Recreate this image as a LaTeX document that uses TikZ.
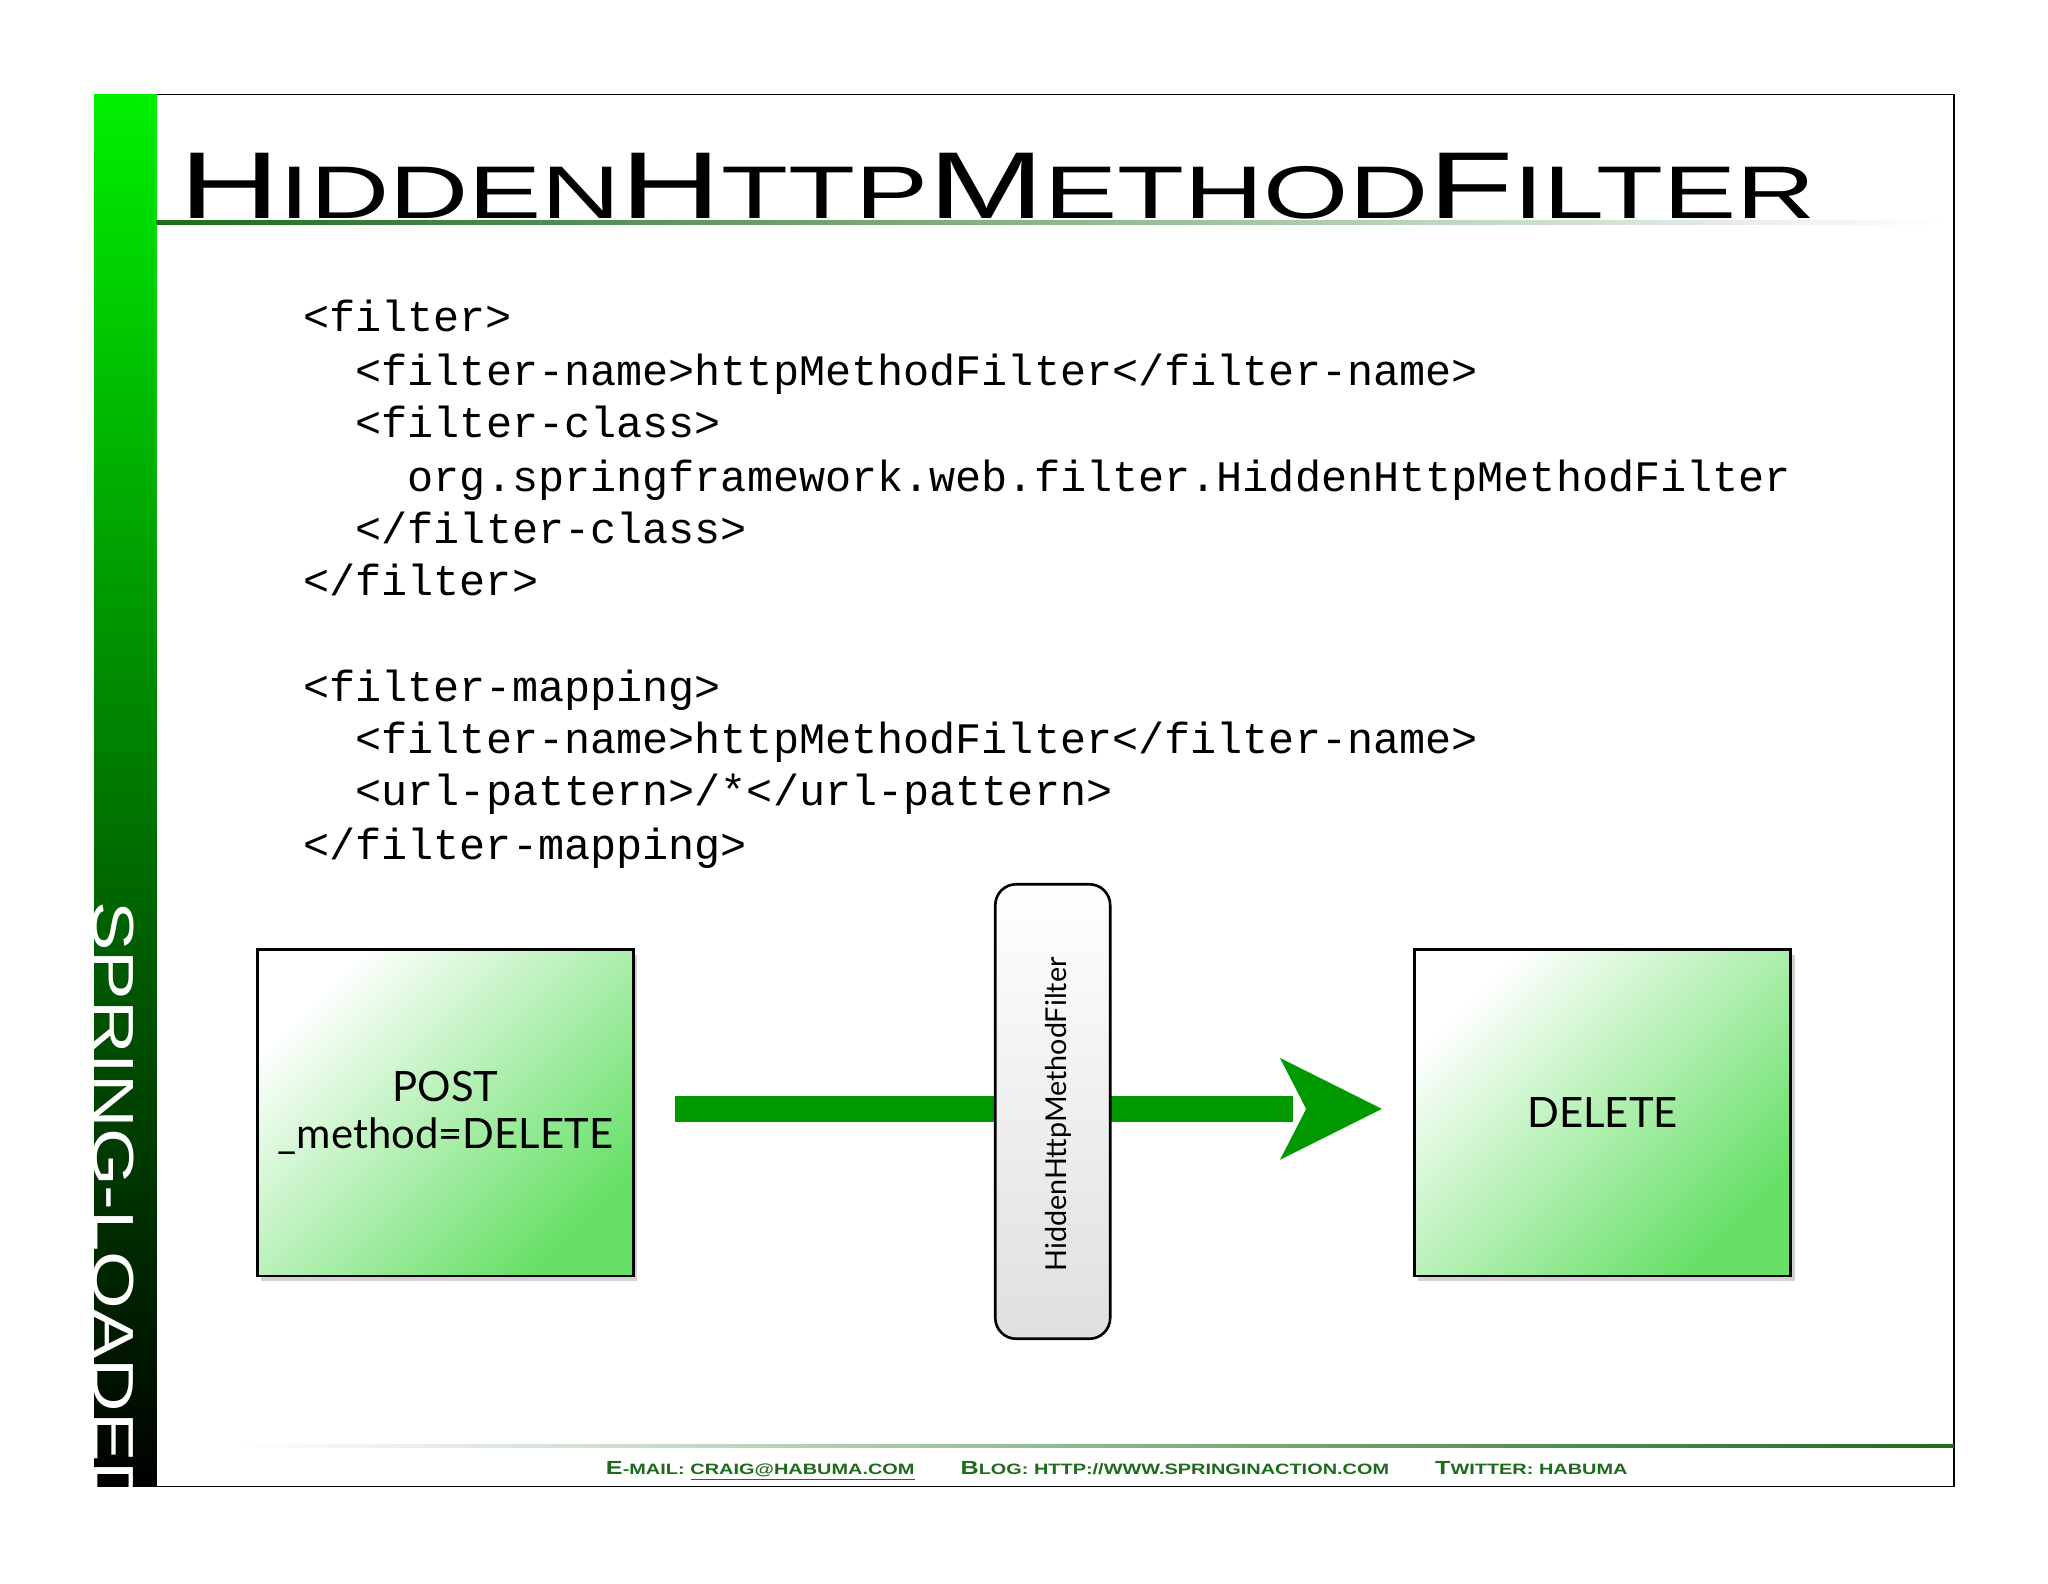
\documentclass[tikz,border=0pt]{standalone}
\usepackage{fontspec}
\setmainfont{Liberation Sans}
\setmonofont{Liberation Mono}
\newfontfamily\gill{Lato}
\usetikzlibrary{shadows,shadings}
\definecolor{dkgreen}{HTML}{009A00}
\definecolor{ftgreen}{HTML}{1E6B1E}
\definecolor{boxgreen}{HTML}{66E066}
\newcommand{\bigc}[1]{{\fontsize{70}{70}\selectfont #1}}
\newcommand{\smc}[1]{{\fontsize{55}{55}\selectfont #1}}
\newcommand{\fb}[1]{{\fontsize{12}{12}\selectfont #1}}
\newcommand{\fs}[1]{{\fontsize{9.5}{9.5}\selectfont #1}}
\begin{document}
\begin{tikzpicture}[x=1pt,y=-1pt,
  code/.style={anchor=base west,font=\fontsize{33.3}{33.3}\selectfont\ttfamily,inner sep=0},
  gbox/.style={draw=black,line width=2pt,minimum width=288pt,minimum height=250pt,
    shading=axis,top color=white,bottom color=boxgreen,shading angle=45,
    drop shadow={shadow xshift=3pt,shadow yshift=-4pt,opacity=0.35},
    font=\gill\fontsize{32}{36}\selectfont,align=center,inner sep=0}]
\useasboundingbox (0,0) rectangle (1568,1212);
\fill[white] (0,0) rectangle (1568,1212);
% frame
\draw[line width=0.8pt] (72,72) rectangle (1496,1138);
% sidebar
\shade[top color={rgb,255:red,0;green,240;blue,0},bottom color=black] (72,72) rectangle (120,1138);
\begin{scope}
\clip (72,72) rectangle (120,1138);
\node[anchor=north west,rotate=-90,inner sep=0,text=white] (side) at (103,690)
  {\resizebox{470pt}{31pt}{\fontsize{40}{40}\selectfont SPRING-LOADED}};
\end{scope}
% title
\node[anchor=base west,inner sep=0] (title) at (137,167)
 {\resizebox{1253pt}{50pt}{\bigc{H}\smc{IDDEN}\bigc{H}\smc{TTP}\bigc{M}\smc{ETHOD}\bigc{F}\smc{ILTER}}};
\shade[left color=ftgreen,right color=white] (120,169) rectangle (1490,172);
% code
\node[code] (c1) at (232,254) {<filter>};
\node[code] (c2) at (272,295) {<filter-name>httpMethodFilter</filter-name>};
\node[code] (c3) at (272,335) {<filter-class>};
\node[code] (c4) at (312,376) {org.springframework.web.filter.HiddenHttpMethodFilter};
\node[code] (c5) at (272,416) {</filter-class>};
\node[code] (c6) at (232,456) {</filter>};
\node[code] (c7) at (232,537) {<filter-mapping>};
\node[code] (c8) at (272,577) {<filter-name>httpMethodFilter</filter-name>};
\node[code] (c9) at (272,617) {<url-pattern>/*</url-pattern>};
\node[code] (c10) at (232,658) {</filter-mapping>};
% boxes
\node[gbox] (post) at (341,852) {POST\\\_method=DELETE};
\node[gbox] (del) at (1227,852) {DELETE};
% arrow
\fill[dkgreen] (517,839) rectangle (990,859);
\fill[dkgreen] (980,810) -- (1058,849) -- (980,888) -- (1000,849) -- cycle;
% filter
\node[draw=black,line width=2pt,rounded corners=16pt,minimum width=88pt,minimum height=348pt,
  top color=white,bottom color=gray!25,inner sep=0] (filt) at (806,851) {};
\node[rotate=90,font=\gill\fontsize{22}{22}\selectfont,anchor=west] (ftxt) at (810,977) {HiddenHttpMethodFilter};
% footer
\shade[left color=white,right color=ftgreen] (180,1106) rectangle (1496,1108.5);
\node[inner sep=0,text=ftgreen,anchor=base] (foot) at (855,1129)
 {\resizebox{782pt}{10pt}{\bfseries\fb{E}\fs{-MAIL:} \underline{\fs{CRAIG@HABUMA.COM}}\hspace{2.2em}\fb{B}\fs{LOG: HTTP://WWW.SPRINGINACTION.COM}\hspace{2.2em}\fb{T}\fs{WITTER: HABUMA}}};
\end{tikzpicture}
\end{document}
